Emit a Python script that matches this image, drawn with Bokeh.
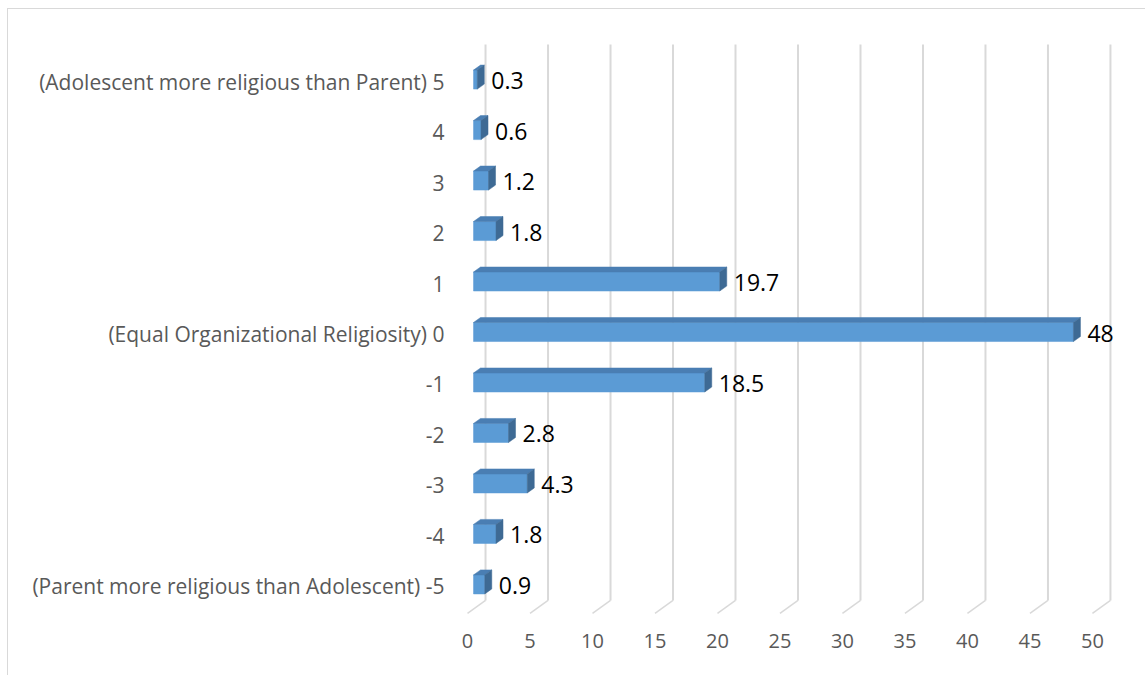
from bokeh.plotting import figure
from bokeh.models import Range1d, FixedTicker
from bokeh.embed import file_html
from bokeh.resources import INLINE
from bokeh.core.properties import value

# ---------------- data ----------------
categories = [-5, -4, -3, -2, -1, 0, 1, 2, 3, 4, 5]
category_labels = [
    "(Parent more religious than Adolescent) -5",
    "-4", "-3", "-2", "-1",
    "(Equal Organizational Religiosity) 0",
    "1", "2", "3", "4",
    "(Adolescent more religious than Parent) 5",
]
percentages = [0.9, 1.8, 4.3, 2.8, 18.5, 48, 19.7, 1.8, 1.2, 0.6, 0.3]
x_ticks = [0, 5, 10, 15, 20, 25, 30, 35, 40, 45, 50]

# ---------------- layout (page pixels) ----------------
W, H = 1145, 675
OX, OY = 7, 8            # canvas origin on the page (outer border)
CW, CH = W - OX, H - OY
FL, FR, FT, FB = 458, 1135, 20, 625
PX_X = 12.48             # pixels per x unit
X0_PIX = 466             # page x of value 0 on the front plane
PX_Y = 50.4              # pixels per category step
Y0_PIX = 332             # page y of category 0

x_start = (FL - X0_PIX) / PX_X
x_end = (FR - X0_PIX) / PX_X
y_start = -(FB - Y0_PIX) / PX_Y
y_end = (Y0_PIX - FT) / PX_Y


def ypix(py):
    return (Y0_PIX - py) / PX_Y


p = figure(width=CW, height=CH,
           x_range=Range1d(x_start, x_end), y_range=Range1d(y_start, y_end),
           output_backend="svg", toolbar_location=None,
           min_border_left=FL - OX, min_border_right=W - FR,
           min_border_top=FT - OY, min_border_bottom=H - FB)
p.margin = (OY, 0, 0, OX)
p.styles = {"border-top": "1px solid #d9d9d9", "border-left": "1px solid #d9d9d9",
            "box-sizing": "content-box"}
p.outline_line_color = None
p.background_fill_color = "white"
p.border_fill_color = "white"
p.xgrid.grid_line_color = None
p.ygrid.grid_line_color = None

GRID = "#d9d9d9"
# back wall gridlines and floor slants
wall_dx = 18 / PX_X
wx = [t + wall_dx for t in x_ticks]
p.segment(x0=wx, y0=[ypix(598)] * len(wx), x1=wx, y1=[ypix(43)] * len(wx),
          line_color=GRID, line_width=2)
p.segment(x0=wx, y0=[ypix(598)] * len(wx), x1=x_ticks, y1=[ypix(611)] * len(wx),
          line_color=GRID, line_width=1.5)

# 3D bars
bar_dx = 6 / PX_X
dep_x = 7 / PX_X
dep_y = 5 / PX_Y
lo = -7.5 / PX_Y
hi = 11.5 / PX_Y

front_l, front_r, front_t, front_b = [], [], [], []
top_xs, top_ys, side_xs, side_ys = [], [], [], []
lab_x, lab_y, lab_t = [], [], []
for c, v in zip(categories, percentages):
    x0 = bar_dx
    x1 = bar_dx + v
    yb = c + lo
    yt = c + hi
    front_l.append(x0); front_r.append(x1); front_b.append(yb); front_t.append(yt)
    top_xs.append([x0, x1, x1 + dep_x, x0 + dep_x])
    top_ys.append([yt, yt, yt + dep_y, yt + dep_y])
    side_xs.append([x1, x1, x1 + dep_x, x1 + dep_x])
    side_ys.append([yb, yt, yt + dep_y, yb + dep_y])
    lab_x.append(x1 + dep_x + 7 / PX_X)
    lab_y.append(c + 1 / PX_Y)
    lab_t.append(f"{v:g}")

p.quad(left=front_l, right=front_r, bottom=front_b, top=front_t,
       fill_color="#5B9BD5", line_color="#5B9BD5", line_width=0.5)
p.patches(xs=top_xs, ys=top_ys, fill_color="#4A7EB3", line_color="#4A7EB3", line_width=0.5)
p.patches(xs=side_xs, ys=side_ys, fill_color="#3E6A94", line_color="#3E6A94", line_width=0.5)

p.text(x=lab_x, y=lab_y, text=lab_t, text_font=value("Open Sans"), text_font_size="23px",
       text_color="#000000", text_baseline="middle", text_align="left")

# axes
FONT = "Open Sans"
p.xaxis.ticker = FixedTicker(ticks=x_ticks)
p.xaxis.axis_line_color = None
p.xaxis.major_tick_line_color = None
p.xaxis.minor_tick_line_color = None
p.xaxis.major_tick_out = 0
p.xaxis.major_tick_in = 0
p.xaxis.major_label_standoff = 6
p.xaxis.major_label_text_font = FONT
p.xaxis.major_label_text_font_size = "20px"
p.xaxis.major_label_text_color = "#595959"

p.yaxis.ticker = FixedTicker(ticks=categories)
p.yaxis.major_label_overrides = {c: l for c, l in zip(categories, category_labels)}
p.yaxis.axis_line_color = None
p.yaxis.major_tick_line_color = None
p.yaxis.minor_tick_line_color = None
p.yaxis.major_tick_out = 0
p.yaxis.major_tick_in = 0
p.yaxis.major_label_standoff = 15
p.yaxis.major_label_text_font = FONT
p.yaxis.major_label_text_font_size = "21px"
p.yaxis.major_label_text_color = "#595959"

open("out.html", "w").write(file_html(p, INLINE))
